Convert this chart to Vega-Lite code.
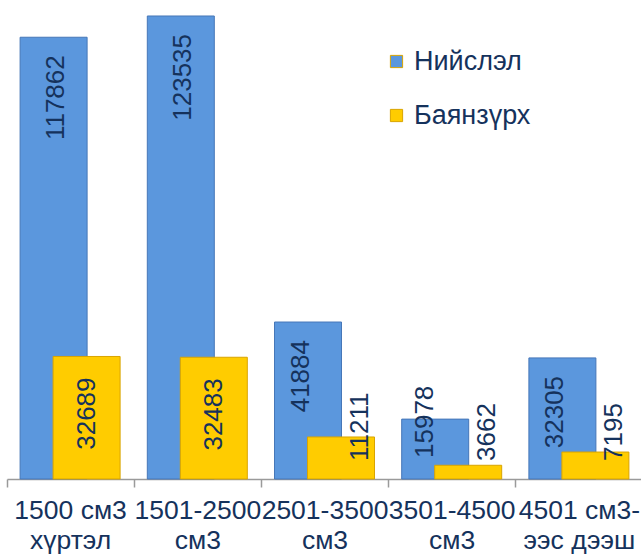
{
  "$schema": "https://vega.github.io/schema/vega-lite/v6.json",
  "autosize": {"type": "none"},
  "width": 636,
  "height": 479,
  "padding": {"left": 7, "top": 0, "right": 0, "bottom": 76},
  "background": "white",
  "config": {
    "view": {"stroke": null},
    "font": "Liberation Sans"
  },
  "data": {
    "values": [
      {"cat": "1500 см3|хүртэл", "series": "Нийслэл", "value": 117862},
      {"cat": "1500 см3|хүртэл", "series": "Баянзүрх", "value": 32689},
      {"cat": "1501-2500|см3", "series": "Нийслэл", "value": 123535},
      {"cat": "1501-2500|см3", "series": "Баянзүрх", "value": 32483},
      {"cat": "2501-3500|см3", "series": "Нийслэл", "value": 41884},
      {"cat": "2501-3500|см3", "series": "Баянзүрх", "value": 11211},
      {"cat": "3501-4500|см3", "series": "Нийслэл", "value": 15978},
      {"cat": "3501-4500|см3", "series": "Баянзүрх", "value": 3662},
      {"cat": "4501 см3-|ээс дээш", "series": "Нийслэл", "value": 32305},
      {"cat": "4501 см3-|ээс дээш", "series": "Баянзүрх", "value": 7195}
    ]
  },
  "encoding": {
    "x": {
      "field": "cat",
      "type": "nominal",
      "sort": null,
      "title": null,
      "scale": {"paddingInner": 0, "paddingOuter": 0},
      "axis": {
        "bandPosition": 0,
        "labelAngle": 0,
        "labelExpr": "split(datum.value, '|')",
        "labelFontSize": 26.5,
        "labelColor": "#15325C",
        "labelLineHeight": 30,
        "labelPadding": 10,
        "labelOverlap": false,
        "labelBound": false,
        "labelLimit": 0,
        "domainColor": "#9A9A9A",
        "domainWidth": 1.5,
        "tickColor": "#9A9A9A",
        "tickWidth": 1.5,
        "tickSize": 8,
        "grid": false
      }
    },
    "y": {
      "field": "value",
      "type": "quantitative",
      "scale": {"domain": [0, 127800], "nice": false, "zero": true},
      "axis": null
    }
  },
  "layer": [
    {
      "transform": [{"filter": "datum.series === 'Нийслэл'"}],
      "mark": {"type": "bar", "width": 67, "xOffset": -17, "stroke": "#4677B8", "strokeWidth": 1},
      "encoding": {
        "color": {
          "field": "series",
          "type": "nominal",
          "scale": {"domain": ["Нийслэл", "Баянзүрх"], "range": ["#5B97DD", "#FFCC00"]},
          "legend": {
            "orient": "none",
            "legendX": 376,
            "legendY": 48,
            "title": null,
            "padding": 0,
            "symbolType": "square",
            "symbolSize": 150,
            "symbolStrokeWidth": 1,
            "symbolStrokeColor": "#6A6A6A",
            "labelFontSize": 27,
            "labelColor": "#15325C",
            "labelOffset": 4,
            "labelLimit": 0,
            "rowPadding": 26
          }
        }
      }
    },
    {
      "transform": [{"filter": "datum.series === 'Баянзүрх'"}],
      "mark": {"type": "bar", "width": 67, "xOffset": 16, "stroke": "#D9A400", "strokeWidth": 1},
      "encoding": {
        "color": {"field": "series", "type": "nominal"}
      }
    },
    {
      "transform": [{"filter": "datum.series === 'Нийслэл' && datum.value > 100000"}],
      "mark": {"type": "text", "angle": -90, "align": "right", "baseline": "middle", "dx": -18, "dy": 2, "xOffset": -17, "fontSize": 26, "color": "#15325C"},
      "encoding": {"text": {"field": "value", "type": "nominal"}}
    },
    {
      "transform": [{"filter": "datum.series === 'Нийслэл' && datum.value > 20000 && datum.value <= 100000"}],
      "mark": {"type": "text", "angle": -90, "align": "right", "baseline": "middle", "dx": -18, "dy": -7, "xOffset": -17, "fontSize": 26, "color": "#15325C"},
      "encoding": {"text": {"field": "value", "type": "nominal"}}
    },
    {
      "transform": [{"filter": "datum.series === 'Нийслэл' && datum.value <= 20000"}],
      "mark": {"type": "text", "angle": -90, "align": "left", "baseline": "middle", "dx": 21, "dy": -10, "xOffset": -17, "fontSize": 26, "color": "#15325C"},
      "encoding": {"y": {"datum": 0}, "text": {"field": "value", "type": "nominal"}}
    },
    {
      "transform": [{"filter": "datum.series === 'Баянзүрх' && datum.value > 20000"}],
      "mark": {"type": "text", "angle": -90, "align": "right", "baseline": "middle", "dx": -21, "dy": 0, "xOffset": 16, "fontSize": 26, "color": "#15325C"},
      "encoding": {"text": {"field": "value", "type": "nominal"}}
    },
    {
      "transform": [{"filter": "datum.series === 'Баянзүрх' && datum.value <= 20000"}],
      "mark": {"type": "text", "angle": -90, "align": "left", "baseline": "middle", "dx": 18, "dy": 19, "xOffset": 16, "fontSize": 26, "color": "#15325C"},
      "encoding": {"y": {"datum": 0}, "text": {"field": "value", "type": "nominal"}}
    }
  ]
}
